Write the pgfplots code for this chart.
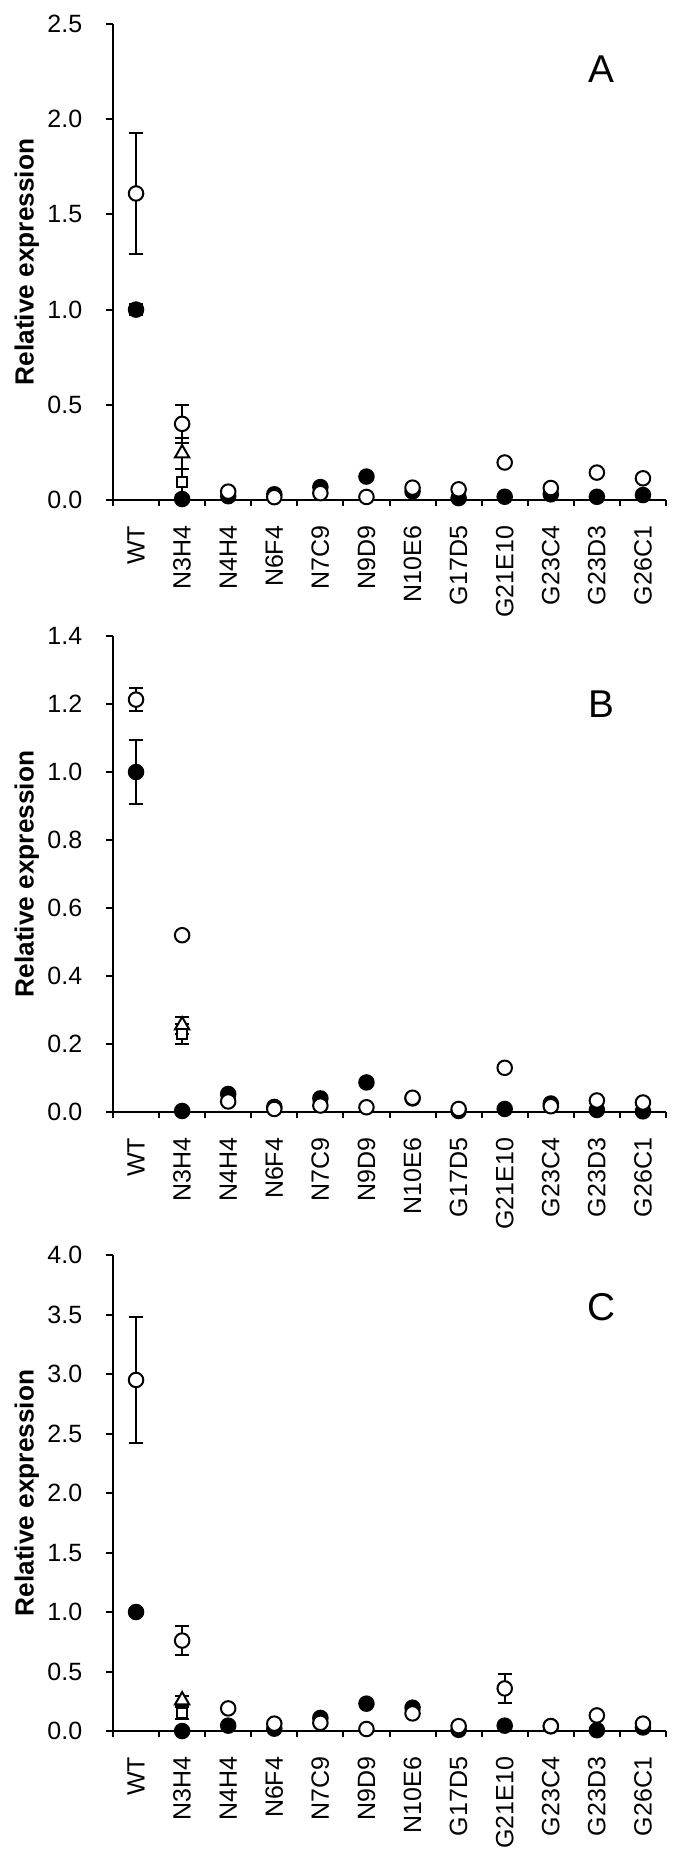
\documentclass[border=0pt]{standalone}
\usepackage{fontspec}
\setmainfont{Liberation Sans}
\usepackage{pgfplots}
\pgfplotsset{compat=1.18}

% 1 px of the reference = 0.4pt
\pgfplotsset{
  panel/.style={
    scale only axis, width=221.2pt, height=190.4pt,
    axis lines*=left,
    axis line style={line width=0.8pt, black},
    xmin=-0.5, xmax=11.5, ymin=0,
    xtick={0,...,11},
    xticklabels={WT,N3H4,N4H4,N6F4,N7C9,N9D9,N10E6,G17D5,G21E10,G23C4,G23D3,G26C1},
    major x tick style={draw=none},
    minor xtick={-0.5,0.5,...,11.5},
    tick align=outside,
    major tick length=2.8pt, minor tick length=2.4pt,
    every tick/.style={line width=0.8pt, black},
    clip=false,
    ylabel={Relative expression},
    every axis y label/.style={at={(axis description cs:0,0.5)}, rotate=90,
      anchor=center, yshift=34.5pt, font=\fontsize{10.5}{12}\selectfont\bfseries},
    tick label style={font=\fontsize{10}{12}\selectfont},
    /pgf/number format/assume math mode=true,
    yticklabel style={/pgf/number format/.cd, fixed, fixed zerofill, precision=1,
      /tikz/.cd, xshift=-6pt},
    xticklabel style={rotate=90, anchor=east, xshift=-4pt},
  },
  filled/.style={only marks, mark=*, mark size=2.9pt,
    mark options={fill=black, draw=black, line width=0.8pt}, errs},
  open/.style={only marks, mark=*, mark size=2.9pt,
    mark options={fill=white, draw=black, line width=0.8pt}, errs},
  tri/.style={only marks, mark=triangle*, mark size=3.3pt,
    mark options={fill=white, draw=black, line width=0.8pt}, errs},
  sq/.style={only marks, mark=square*, mark size=2.0pt,
    mark options={fill=white, draw=black, line width=0.8pt}, errs},
  errs/.style={error bars/.cd, y dir=both, y explicit,
    error bar style={line width=0.8pt, black},
    error mark options={line width=0.8pt, black, mark size=2.8pt, rotate=90}},
}

\begin{document}
\begin{tikzpicture}
\useasboundingbox (0,0) rectangle (273.6pt,-743.6pt);

% ---------- A ----------
\begin{axis}[panel, at={(45.2pt,-200pt)}, anchor=south west,
  ymax=2.5, ytick={0,0.5,1,1.5,2,2.5}]
\addplot[filled] coordinates {
  (0,1.00) +- (0,0.03) (1,0.005) +- (0,0) (2,0.02) +- (0,0) (3,0.03) +- (0,0)
  (4,0.068) +- (0,0) (5,0.123) +- (0,0) (6,0.045) +- (0,0) (7,0.01) +- (0,0)
  (8,0.017) +- (0,0) (9,0.03) +- (0,0) (10,0.017) +- (0,0) (11,0.026) +- (0,0)};
\addplot[open] coordinates {
  (0,1.61) +- (0,0.32) (1,0.40) +- (0,0.10) (2,0.044) +- (0,0) (3,0.015) +- (0,0)
  (4,0.036) +- (0,0) (5,0.016) +- (0,0) (6,0.065) +- (0,0) (7,0.056) +- (0,0)
  (8,0.197) +- (0,0) (9,0.063) +- (0,0) (10,0.144) +- (0,0) (11,0.114) +- (0,0)};
\addplot[tri] coordinates {(1,0.245) +- (0,0.08)};
\addplot[sq] coordinates {(1,0.095) +- (0,0.07)};
\node[font=\fontsize{15.5}{18}\selectfont] at (rel axis cs:0.884,0.906) {A};
\end{axis}

% ---------- B ----------
\begin{axis}[panel, at={(45.2pt,-444.8pt)}, anchor=south west,
  ymax=1.4, ytick={0,0.2,0.4,0.6,0.8,1,1.2,1.4}]
\addplot[filled] coordinates {
  (0,1.00) +- (0,0.093) (1,0.003) +- (0,0) (2,0.053) +- (0,0) (3,0.015) +- (0,0)
  (4,0.04) +- (0,0) (5,0.087) +- (0,0) (6,0.04) +- (0,0) (7,0.003) +- (0,0)
  (8,0.009) +- (0,0) (9,0.025) +- (0,0) (10,0.006) +- (0,0) (11,0.002) +- (0,0)};
\addplot[open] coordinates {
  (0,1.213) +- (0,0.035) (1,0.52) +- (0,0) (2,0.031) +- (0,0) (3,0.009) +- (0,0)
  (4,0.019) +- (0,0) (5,0.014) +- (0,0) (6,0.042) +- (0,0) (7,0.009) +- (0,0)
  (8,0.13) +- (0,0) (9,0.017) +- (0,0) (10,0.034) +- (0,0) (11,0.028) +- (0,0)};
\addplot[tri] coordinates {(1,0.255) +- (0,0.025)};
\addplot[sq] coordinates {(1,0.23) +- (0,0.03)};
\node[font=\fontsize{15.5}{18}\selectfont] at (rel axis cs:0.884,0.857) {B};
\end{axis}

% ---------- C ----------
\begin{axis}[panel, at={(45.2pt,-692.4pt)}, anchor=south west,
  ymax=4, ytick={0,0.5,1,1.5,2,2.5,3,3.5,4}]
\addplot[filled] coordinates {
  (0,1.00) +- (0,0.03) (1,0.0) +- (0,0) (2,0.045) +- (0,0) (3,0.02) +- (0,0)
  (4,0.11) +- (0,0) (5,0.23) +- (0,0) (6,0.196) +- (0,0) (7,0.01) +- (0,0)
  (8,0.045) +- (0,0) (9,0.04) +- (0,0) (10,0.007) +- (0,0) (11,0.03) +- (0,0)};
\addplot[open] coordinates {
  (0,2.95) +- (0,0.53) (1,0.76) +- (0,0.12) (2,0.19) +- (0,0) (3,0.062) +- (0,0)
  (4,0.069) +- (0,0) (5,0.017) +- (0,0) (6,0.148) +- (0,0) (7,0.041) +- (0,0)
  (8,0.358) +- (0,0.12) (9,0.041) +- (0,0) (10,0.131) +- (0,0) (11,0.062) +- (0,0)};
\addplot[tri] coordinates {(1,0.258) +- (0,0.04)};
\addplot[sq] coordinates {(1,0.148) +- (0,0.05)};
\node[font=\fontsize{15.5}{18}\selectfont] at (rel axis cs:0.884,0.89) {C};
\end{axis}
\end{tikzpicture}
\end{document}
